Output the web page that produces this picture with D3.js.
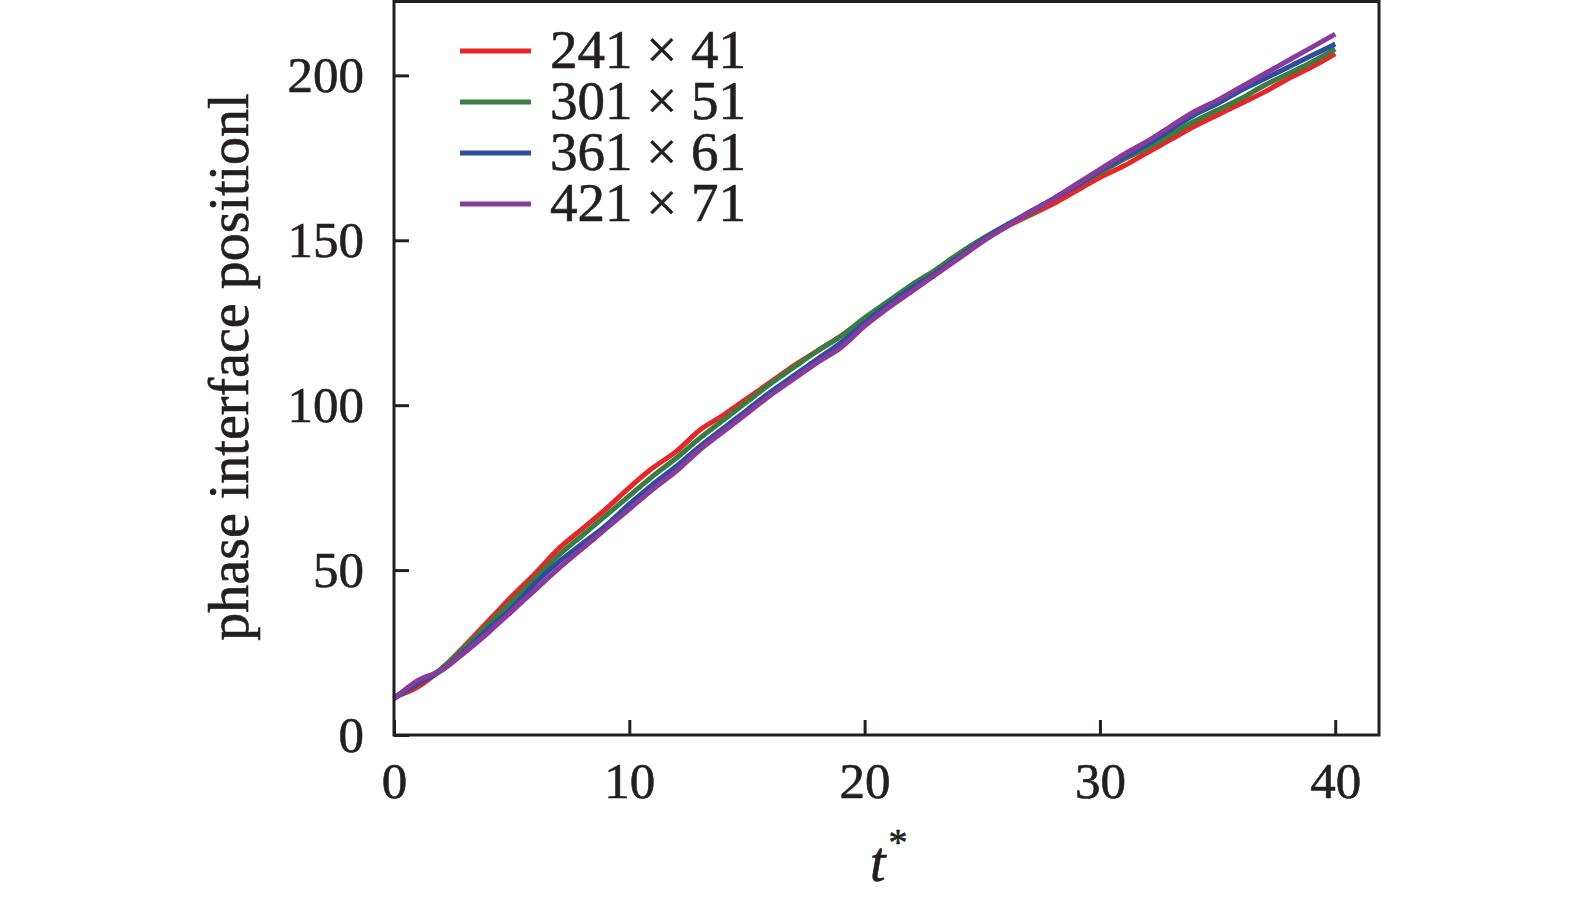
<!DOCTYPE html>
<html>
<head>
<meta charset="utf-8">
<script src="https://cdn.jsdelivr.net/npm/d3@7"></script>
<style>
  html, body { margin: 0; padding: 0; background: #fff; }
  svg { display: block; }
  text { font-family: "Liberation Serif", "Times New Roman", serif; fill: #231f20; stroke: #231f20; stroke-width: 0.6px; }
</style>
</head>
<body>
<svg id="chart" width="1575" height="900"></svg>
<script>
// ---- data ----
const tValues = d3.range(0, 41); // t* = 0..40
const seriesNames = ["241 \u00d7 41", "301 \u00d7 51", "361 \u00d7 61", "421 \u00d7 71"];
const seriesColors = ["#e5262b", "#3b7d3e", "#2f4d9e", "#8a3a9b"];
const red241 = [11.5,14.5,20,27,34.5,42,49,56.5,62.5,68.5,75,81,86,92.5,97,102,107,112,116.5,121,126,131,136,140.5,145.5,150,154,157.5,161,165,169,172.5,176.5,180.5,184.5,188,191.5,195,199,202.5,206.5];
const green301 = [11.5,15.5,20,26.5,33.5,40.5,47.5,54.5,60.5,66.5,72.5,78.5,84,90,95.5,101,106.5,111.5,116.5,121,126.5,131.5,136.5,141,146,150.5,154.5,158,162.5,166.5,170.5,174.5,178,182,186,189.5,193,197,200.5,204,208];
const blue361 = [11,15.5,19.5,25.5,32,38.5,46,52.5,58,63.5,70,76,81.5,87.5,93,98.5,104,109,114,119,125,130.5,135.5,140,145,150,154.5,158.5,162.5,166.5,171,175,179,183.5,188,191.5,195.5,199,202.5,206,209.5];
const purple421 = [11,16.5,19.5,25,31,37.5,44,50.5,56.5,62.5,68.5,74.5,80,86.5,92,97.5,103,108,113,117.5,124,129.5,134.5,139.5,144.5,149.5,154,158.5,162.5,167,171.5,176,180,184.5,189,192.5,196.5,200.5,204.5,208.5,212.5];
const seriesValues = [red241, green301, blue361, purple421];
const xTicks = [0, 10, 20, 30, 40];
const yTicks = [0, 50, 100, 150, 200];
const xLabel = "t";
const yLabel = "phase interface positionl";

// ---- layout ----
const svg = d3.select("#chart");
const mLeft = 394, mRight = 1379, mTop = 1.5, mBottom = 735;
const x = d3.scaleLinear().domain([0, 41.86]).range([mLeft, mRight]);
const y = d3.scaleLinear().domain([0, 222.4]).range([mBottom, mTop]);
const ink = "#231f20";
const tickFont = 51;
const labelFont = 56;
const legendFont = 55;

// lines
const line = d3.line().x((d, i) => x(tValues[i])).y(d => y(d)).curve(d3.curveMonotoneX);
seriesValues.forEach((vals, k) => {
  svg.append("path")
    .datum(vals)
    .attr("d", line)
    .attr("fill", "none")
    .attr("stroke", seriesColors[k])
    .attr("stroke-width", 5)
    .attr("stroke-linejoin", "round")
    .attr("stroke-linecap", "butt");
});

// frame
svg.append("rect")
  .attr("x", mLeft).attr("y", mTop)
  .attr("width", mRight - mLeft).attr("height", mBottom - mTop)
  .attr("fill", "none").attr("stroke", ink).attr("stroke-width", 3);

// x axis ticks (inward)
const xAxis = d3.axisBottom(x).tickValues(xTicks).tickSize(-15).tickPadding(27).tickFormat(d3.format("d"));
const gx = svg.append("g").attr("transform", `translate(0,${mBottom})`).call(xAxis);
gx.select(".domain").remove();
gx.selectAll(".tick line").attr("stroke", ink).attr("stroke-width", 3);
gx.selectAll(".tick text")
  .attr("font-size", tickFont).attr("fill", ink)
  .attr("font-family", "Liberation Serif, serif")
  .attr("dy", "0.71em");

// y axis ticks (inward)
const yAxis = d3.axisLeft(y).tickValues(yTicks).tickSize(-15).tickPadding(30).tickFormat(d3.format("d"));
const gy = svg.append("g").attr("transform", `translate(${mLeft},0)`).call(yAxis);
gy.select(".domain").remove();
gy.selectAll(".tick line").attr("stroke", ink).attr("stroke-width", 3);
gy.selectAll(".tick text")
  .attr("font-size", tickFont).attr("fill", ink)
  .attr("font-family", "Liberation Serif, serif");

// axis labels
svg.append("text")
  .attr("transform", "translate(248,367) rotate(-90)")
  .attr("text-anchor", "middle")
  .attr("font-size", labelFont)
  .text(yLabel);

const xl = svg.append("text")
  .attr("x", 870).attr("y", 881)
  .attr("font-size", labelFont);
xl.append("tspan").attr("font-style", "italic").text(xLabel);
xl.append("tspan").attr("font-size", 38).attr("dx", 3).attr("dy", -26).text("*");

// legend
const legendRows = [51, 102, 153, 204];
seriesNames.forEach((name, k) => {
  svg.append("line")
    .attr("x1", 460).attr("x2", 531)
    .attr("y1", legendRows[k]).attr("y2", legendRows[k])
    .attr("stroke", seriesColors[k]).attr("stroke-width", 5);
  svg.append("text")
    .attr("x", 550).attr("y", legendRows[k] + 17)
    .attr("font-size", legendFont)
    .text(name);
});
</script>
</body>
</html>
